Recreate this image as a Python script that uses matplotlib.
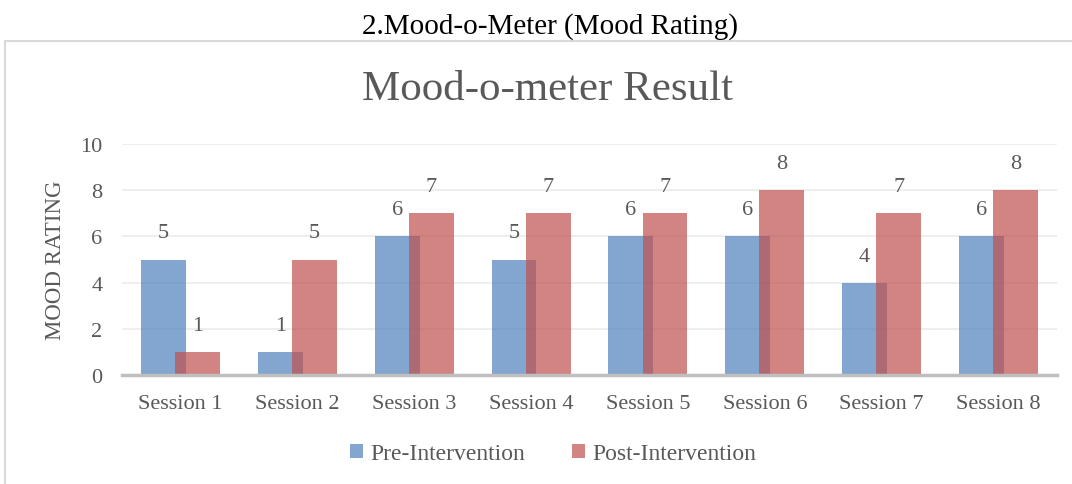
import matplotlib
matplotlib.use("Agg")
import matplotlib.pyplot as plt
import numpy as np
from matplotlib.patches import Rectangle

sessions = ["Session 1", "Session 2", "Session 3", "Session 4",
            "Session 5", "Session 6", "Session 7", "Session 8"]
pre = [5, 1, 6, 5, 6, 6, 4, 6]
post = [1, 5, 7, 7, 7, 8, 7, 8]
series_names = ["Pre-Intervention", "Post-Intervention"]
yticks = [0, 2, 4, 6, 8, 10]

plt.rcParams['font.family'] = ['Liberation Serif', 'DejaVu Serif']
txt = "#595959"

fig = plt.figure(figsize=(10.72, 4.85), dpi=100)
fig.patches.append(Rectangle((5/1072, -0.05), 1.1, 1 - 42/485 + 0.05,
                             transform=fig.transFigure, fill=False,
                             edgecolor="#D9D9D9", linewidth=1.5, zorder=0))
fig.text(0.513, 1 - 27/485, "2.Mood-o-Meter (Mood Rating)", ha="center",
         va="center", fontsize=21, color="black")
fig.text(0.511, 1 - 90/485, "Mood-o-meter Result", ha="center", va="center",
         fontsize=31, color=txt)

ax = fig.add_axes([122/1072, 1 - 376/485, (1057 - 122)/1072, (376 - 145)/485])
x = np.arange(len(sessions))
w = 0.385
off = 0.146
b1 = ax.bar(x - off, pre, w, color="#4F81BD", alpha=0.7, zorder=2,
            label=series_names[0])
b2 = ax.bar(x + off, post, w, color="#C0504D", alpha=0.7, zorder=3,
            label=series_names[1])
for xi, v in zip(x - off, pre):
    ax.text(xi, v + 1.15, str(v), ha="center", va="center", fontsize=16, color=txt)
for xi, v in zip(x + off, post):
    ax.text(xi, v + 1.15, str(v), ha="center", va="center", fontsize=16, color=txt)

ax.set_xlim(-0.5, len(sessions) - 0.5)
ax.set_ylim(0, 10)
ax.set_yticks(yticks)
ax.set_xticks(x)
ax.set_xticklabels(sessions)
ax.tick_params(axis="both", length=0, colors=txt, labelsize=16)
ax.tick_params(axis="x", pad=14)
ax.tick_params(axis="y", pad=14)
for s in ["top", "right", "left"]:
    ax.spines[s].set_visible(False)
ax.spines["bottom"].set_color("#BFBFBF")
ax.spines["bottom"].set_linewidth(2.5)
ax.spines["bottom"].set_zorder(4)
ax.yaxis.grid(True, color="#EBEBEB", linewidth=1.2, zorder=0)
ax.set_axisbelow(True)
ax.set_ylabel("MOOD RATING", fontsize=16.5, color=txt, labelpad=10)

leg = fig.legend(handles=[b1, b2], labels=series_names, loc="center",
                 bbox_to_anchor=(0.516, 1 - 455/485), ncol=2, frameon=False,
                 fontsize=17, handlelength=0.55, handleheight=0.55,
                 handletextpad=0.3, columnspacing=2.0, labelcolor=txt)
for h in leg.legend_handles:
    h.set_alpha(0.7)

fig.savefig("out.png", dpi=100)
